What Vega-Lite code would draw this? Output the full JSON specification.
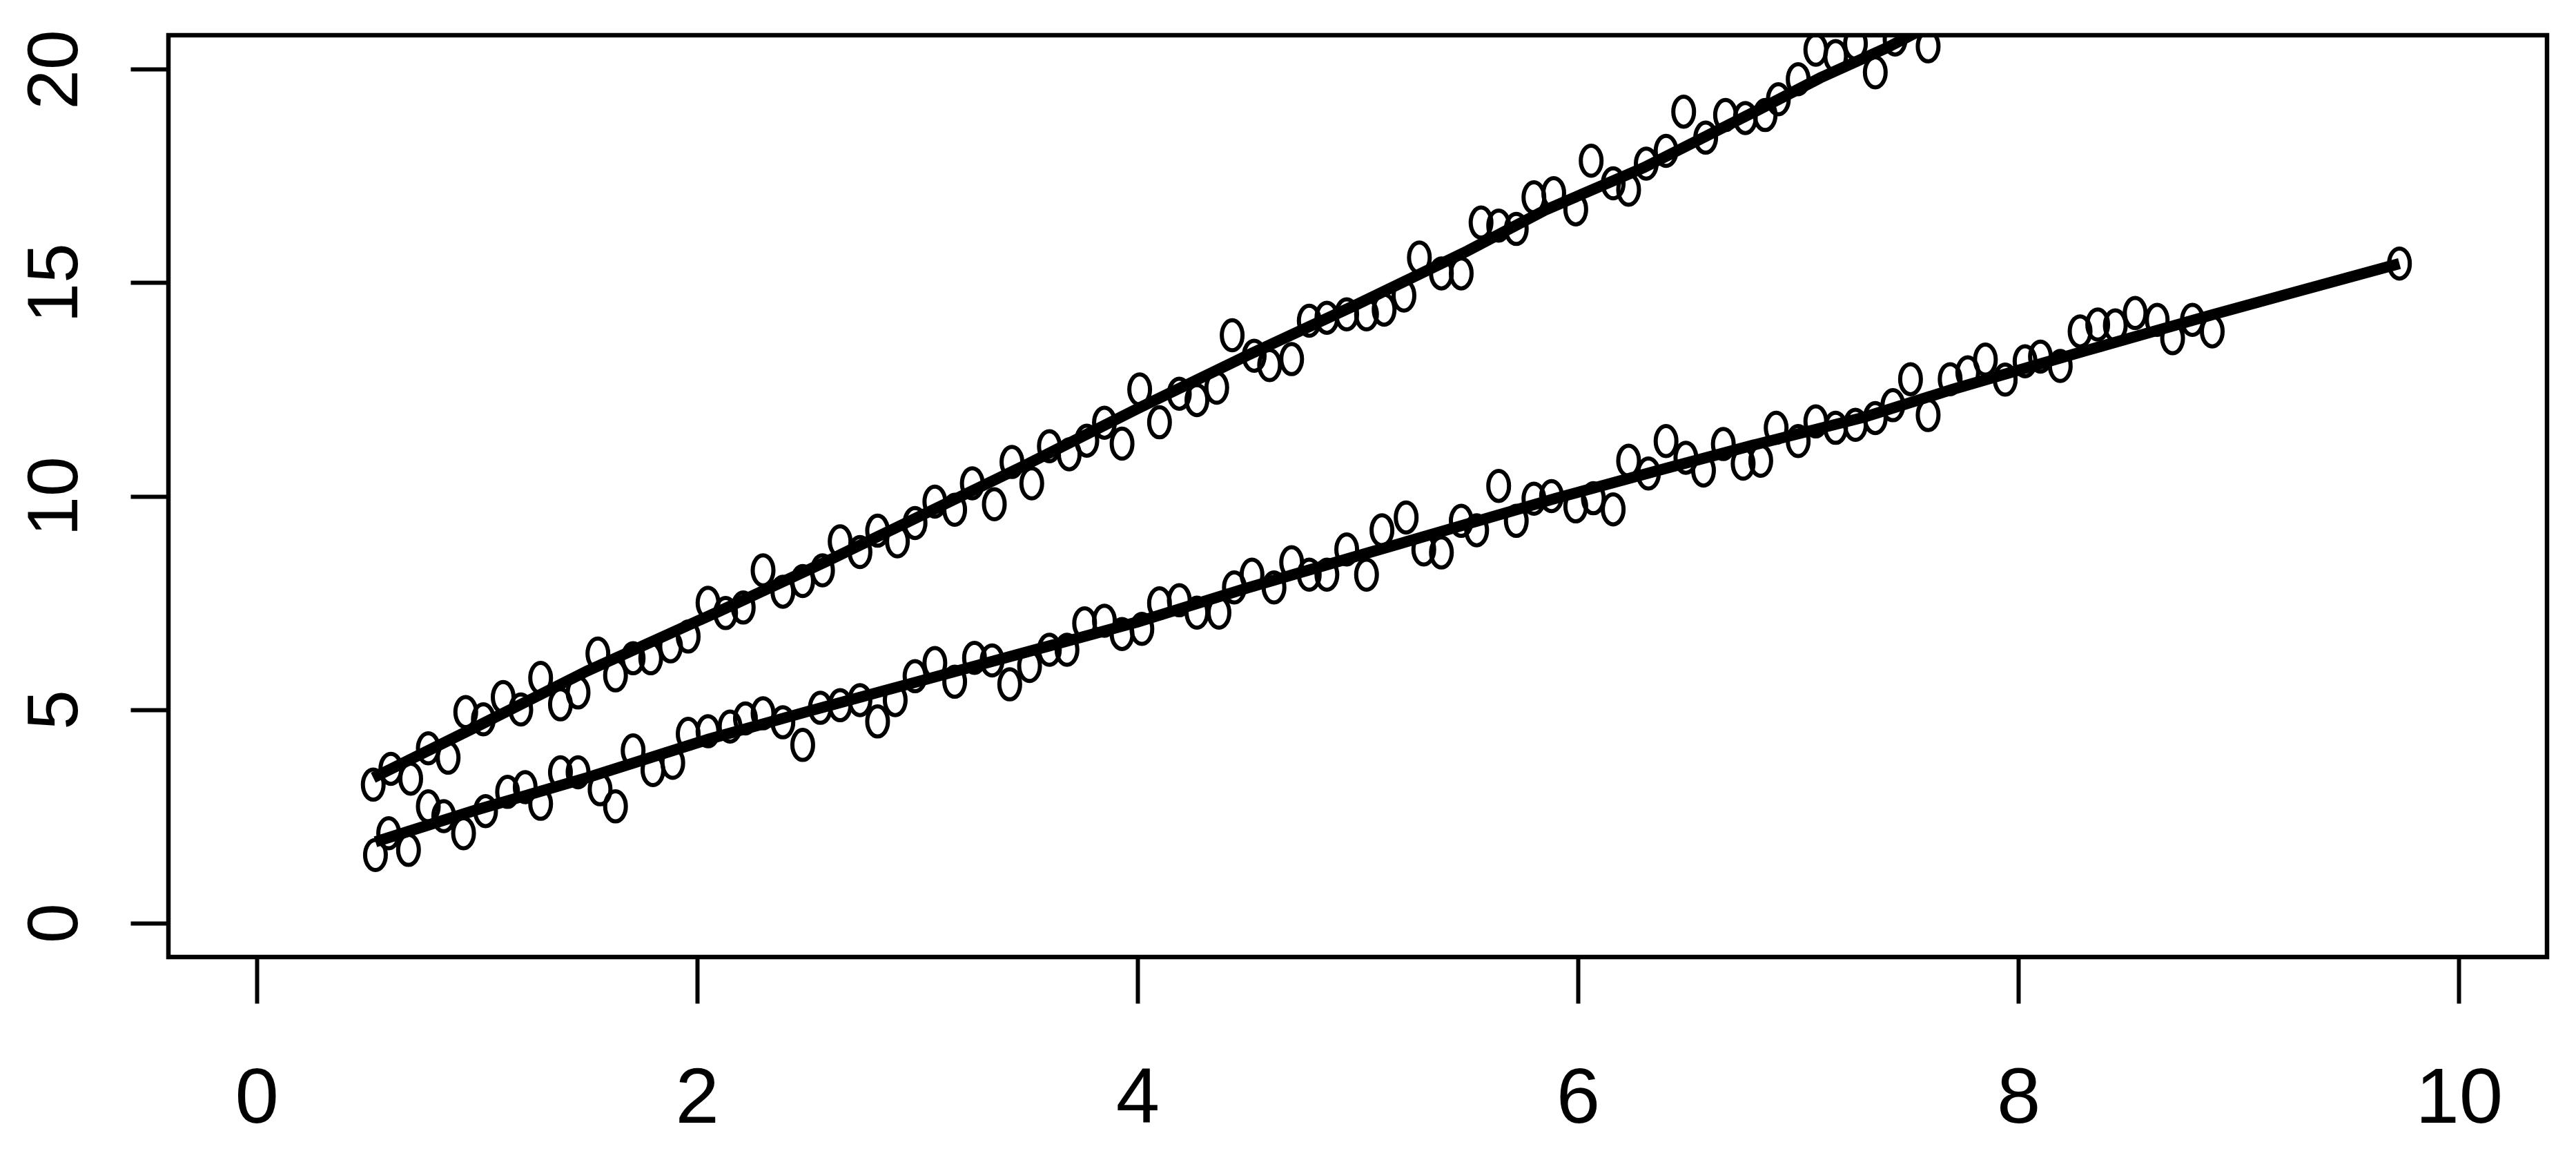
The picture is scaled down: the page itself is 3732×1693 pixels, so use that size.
{
  "$schema": "https://vega.github.io/schema/vega-lite/v6.json",
  "width": 3446,
  "height": 1335,
  "autosize": {"type": "none"},
  "padding": {"left": 244, "top": 51, "right": 42, "bottom": 307},
  "background": "white",
  "config": {
    "view": {"stroke": "black", "strokeWidth": 6.5, "fill": "white"},
    "axis": {"grid": false, "domain": false, "title": null, "tickColor": "black", "tickWidth": 6, "labelColor": "black", "labelFont": "Liberation Sans", "labelLimit": 0, "format": "d", "labelOverlap": false}
  },
  "datasets": {
    "pts": [
      {"series":"A","x":0.53,"y":3.24},{"series":"A","x":0.61,"y":3.61},{"series":"A","x":0.70,"y":3.38},{"series":"A","x":0.78,"y":4.09},{"series":"A","x":0.87,"y":3.87},{"series":"A","x":0.95,"y":4.94},{"series":"A","x":1.03,"y":4.77},{"series":"A","x":1.12,"y":5.29},{"series":"A","x":1.20,"y":5.00},{"series":"A","x":1.29,"y":5.74},{"series":"A","x":1.38,"y":5.12},{"series":"A","x":1.46,"y":5.40},{"series":"A","x":1.55,"y":6.31},{"series":"A","x":1.63,"y":5.80},{"series":"A","x":1.71,"y":6.20},{"series":"A","x":1.79,"y":6.20},{"series":"A","x":1.88,"y":6.48},{"series":"A","x":1.96,"y":6.71},{"series":"A","x":2.05,"y":7.50},{"series":"A","x":2.13,"y":7.26},{"series":"A","x":2.21,"y":7.39},{"series":"A","x":2.30,"y":8.26},{"series":"A","x":2.39,"y":7.76},{"series":"A","x":2.48,"y":8.01},{"series":"A","x":2.57,"y":8.26},{"series":"A","x":2.65,"y":8.94},{"series":"A","x":2.74,"y":8.69},{"series":"A","x":2.82,"y":9.19},{"series":"A","x":2.91,"y":8.94},{"series":"A","x":2.99,"y":9.37},{"series":"A","x":3.08,"y":9.87},{"series":"A","x":3.17,"y":9.68},{"series":"A","x":3.25,"y":10.30},{"series":"A","x":3.35,"y":9.81},{"series":"A","x":3.43,"y":10.80},{"series":"A","x":3.52,"y":10.30},{"series":"A","x":3.60,"y":11.17},{"series":"A","x":3.69,"y":10.98},{"series":"A","x":3.77,"y":11.30},{"series":"A","x":3.85,"y":11.72},{"series":"A","x":3.93,"y":11.23},{"series":"A","x":4.01,"y":12.50},{"series":"A","x":4.10,"y":11.73},{"series":"A","x":4.19,"y":12.40},{"series":"A","x":4.27,"y":12.25},{"series":"A","x":4.36,"y":12.54},{"series":"A","x":4.43,"y":13.77},{"series":"A","x":4.53,"y":13.29},{"series":"A","x":4.60,"y":13.07},{"series":"A","x":4.70,"y":13.21},{"series":"A","x":4.78,"y":14.11},{"series":"A","x":4.86,"y":14.18},{"series":"A","x":4.95,"y":14.26},{"series":"A","x":5.04,"y":14.26},{"series":"A","x":5.12,"y":14.37},{"series":"A","x":5.21,"y":14.70},{"series":"A","x":5.28,"y":15.59},{"series":"A","x":5.38,"y":15.22},{"series":"A","x":5.47,"y":15.22},{"series":"A","x":5.56,"y":16.41},{"series":"A","x":5.64,"y":16.34},{"series":"A","x":5.72,"y":16.26},{"series":"A","x":5.80,"y":17.00},{"series":"A","x":5.89,"y":17.10},{"series":"A","x":5.99,"y":16.72},{"series":"A","x":6.06,"y":17.86},{"series":"A","x":6.16,"y":17.33},{"series":"A","x":6.23,"y":17.18},{"series":"A","x":6.31,"y":17.79},{"series":"A","x":6.40,"y":18.09},{"series":"A","x":6.48,"y":19.01},{"series":"A","x":6.58,"y":18.40},{"series":"A","x":6.67,"y":18.93},{"series":"A","x":6.76,"y":18.86},{"series":"A","x":6.85,"y":18.93},{"series":"A","x":6.91,"y":19.30},{"series":"A","x":7.00,"y":19.77},{"series":"A","x":7.08,"y":20.46},{"series":"A","x":7.17,"y":20.31},{"series":"A","x":7.26,"y":20.60},{"series":"A","x":7.35,"y":19.93},{"series":"A","x":7.44,"y":20.70},{"series":"A","x":7.59,"y":20.54},
      {"series":"B","x":0.54,"y":1.59},{"series":"B","x":0.60,"y":2.10},{"series":"B","x":0.69,"y":1.71},{"series":"B","x":0.78,"y":2.73},{"series":"B","x":0.85,"y":2.50},{"series":"B","x":0.94,"y":2.10},{"series":"B","x":1.04,"y":2.62},{"series":"B","x":1.14,"y":3.07},{"series":"B","x":1.22,"y":3.18},{"series":"B","x":1.29,"y":2.79},{"series":"B","x":1.38,"y":3.53},{"series":"B","x":1.46,"y":3.53},{"series":"B","x":1.56,"y":3.13},{"series":"B","x":1.63,"y":2.73},{"series":"B","x":1.71,"y":4.04},{"series":"B","x":1.80,"y":3.58},{"series":"B","x":1.89,"y":3.75},{"series":"B","x":1.96,"y":4.43},{"series":"B","x":2.05,"y":4.49},{"series":"B","x":2.15,"y":4.60},{"series":"B","x":2.22,"y":4.79},{"series":"B","x":2.30,"y":4.91},{"series":"B","x":2.39,"y":4.70},{"series":"B","x":2.48,"y":4.17},{"series":"B","x":2.56,"y":5.04},{"series":"B","x":2.65,"y":5.10},{"series":"B","x":2.74,"y":5.22},{"series":"B","x":2.82,"y":4.72},{"series":"B","x":2.90,"y":5.22},{"series":"B","x":2.99,"y":5.78},{"series":"B","x":3.08,"y":6.09},{"series":"B","x":3.17,"y":5.65},{"series":"B","x":3.26,"y":6.21},{"series":"B","x":3.34,"y":6.15},{"series":"B","x":3.42,"y":5.59},{"series":"B","x":3.51,"y":6.02},{"series":"B","x":3.60,"y":6.40},{"series":"B","x":3.68,"y":6.40},{"series":"B","x":3.76,"y":7.02},{"series":"B","x":3.85,"y":7.08},{"series":"B","x":3.93,"y":6.77},{"series":"B","x":4.02,"y":6.89},{"series":"B","x":4.10,"y":7.49},{"series":"B","x":4.19,"y":7.56},{"series":"B","x":4.27,"y":7.27},{"series":"B","x":4.37,"y":7.27},{"series":"B","x":4.44,"y":7.86},{"series":"B","x":4.52,"y":8.16},{"series":"B","x":4.62,"y":7.86},{"series":"B","x":4.70,"y":8.45},{"series":"B","x":4.78,"y":8.16},{"series":"B","x":4.86,"y":8.16},{"series":"B","x":4.95,"y":8.75},{"series":"B","x":5.04,"y":8.16},{"series":"B","x":5.11,"y":9.20},{"series":"B","x":5.22,"y":9.50},{"series":"B","x":5.30,"y":8.75},{"series":"B","x":5.38,"y":8.68},{"series":"B","x":5.47,"y":9.42},{"series":"B","x":5.54,"y":9.20},{"series":"B","x":5.64,"y":10.24},{"series":"B","x":5.72,"y":9.42},{"series":"B","x":5.80,"y":9.94},{"series":"B","x":5.88,"y":10.00},{"series":"B","x":5.99,"y":9.76},{"series":"B","x":6.07,"y":9.95},{"series":"B","x":6.16,"y":9.69},{"series":"B","x":6.23,"y":10.83},{"series":"B","x":6.32,"y":10.53},{"series":"B","x":6.40,"y":11.29},{"series":"B","x":6.49,"y":10.90},{"series":"B","x":6.57,"y":10.60},{"series":"B","x":6.66,"y":11.22},{"series":"B","x":6.75,"y":10.76},{"series":"B","x":6.83,"y":10.83},{"series":"B","x":6.90,"y":11.60},{"series":"B","x":7.00,"y":11.29},{"series":"B","x":7.08,"y":11.75},{"series":"B","x":7.17,"y":11.60},{"series":"B","x":7.26,"y":11.67},{"series":"B","x":7.35,"y":11.83},{"series":"B","x":7.43,"y":12.13},{"series":"B","x":7.51,"y":12.74},{"series":"B","x":7.59,"y":11.90},{"series":"B","x":7.69,"y":12.74},{"series":"B","x":7.77,"y":12.90},{"series":"B","x":7.85,"y":13.20},{"series":"B","x":7.94,"y":12.73},{"series":"B","x":8.03,"y":13.16},{"series":"B","x":8.10,"y":13.27},{"series":"B","x":8.19,"y":13.05},{"series":"B","x":8.28,"y":13.86},{"series":"B","x":8.36,"y":14.02},{"series":"B","x":8.44,"y":14.00},{"series":"B","x":8.53,"y":14.29},{"series":"B","x":8.63,"y":14.13},{"series":"B","x":8.70,"y":13.70},{"series":"B","x":8.79,"y":14.13},{"series":"B","x":8.88,"y":13.86},{"series":"B","x":9.73,"y":15.45}
    ],
    "fit": [
      {"series":"A","x":0.53,"y":3.4},{"series":"A","x":1.0,"y":4.6},{"series":"A","x":1.5,"y":5.9},{"series":"A","x":2.1,"y":7.3},{"series":"A","x":2.6,"y":8.5},{"series":"A","x":3.0,"y":9.5},{"series":"A","x":3.5,"y":10.75},{"series":"A","x":4.0,"y":12.05},{"series":"A","x":4.5,"y":13.3},{"series":"A","x":5.0,"y":14.5},{"series":"A","x":5.5,"y":15.75},{"series":"A","x":5.85,"y":16.7},{"series":"A","x":6.3,"y":17.7},{"series":"A","x":6.8,"y":19.0},{"series":"A","x":7.1,"y":19.8},{"series":"A","x":7.4,"y":20.5},{"series":"A","x":7.7,"y":21.3},
      {"series":"B","x":0.54,"y":1.9},{"series":"B","x":1.0,"y":2.65},{"series":"B","x":1.5,"y":3.4},{"series":"B","x":2.05,"y":4.3},{"series":"B","x":2.5,"y":4.95},{"series":"B","x":3.0,"y":5.65},{"series":"B","x":3.5,"y":6.35},{"series":"B","x":4.0,"y":7.05},{"series":"B","x":4.5,"y":7.85},{"series":"B","x":5.0,"y":8.6},{"series":"B","x":5.5,"y":9.35},{"series":"B","x":5.9,"y":9.95},{"series":"B","x":6.4,"y":10.65},{"series":"B","x":6.8,"y":11.2},{"series":"B","x":7.3,"y":11.85},{"series":"B","x":7.7,"y":12.5},{"series":"B","x":8.3,"y":13.4},{"series":"B","x":8.88,"y":14.25},{"series":"B","x":9.73,"y":15.45}
    ]
  },
  "layer": [
    {
      "data": {"name": "pts"},
      "mark": {"type": "point", "shape": "M -1 0 A 1 1.45 0 1 1 1 0 A 1 1.45 0 1 1 -1 0 Z", "filled": false, "stroke": "black", "strokeWidth": 6, "size": 900, "opacity": 1, "clip": true},
      "encoding": {
        "x": {"field": "x", "type": "quantitative", "scale": {"domain": [-0.4, 10.4], "nice": false, "zero": false},
          "axis": {"values": [0, 2, 4, 6, 8, 10], "tickSize": 67, "labelPadding": 82, "labelFontSize": 114, "labelBaseline": "top", "labelFlush": false}},
        "y": {"field": "y", "type": "quantitative", "scale": {"domain": [-0.8, 20.8], "nice": false, "zero": false},
          "axis": {"values": [0, 5, 10, 15, 20], "tickSize": 55, "labelPadding": 78, "labelFontSize": 104, "labelAngle": -90, "labelAlign": "center", "labelBaseline": "alphabetic", "labelFlush": false}}
      }
    },
    {
      "data": {"name": "fit"},
      "mark": {"type": "line", "stroke": "black", "strokeWidth": 16, "clip": true},
      "encoding": {
        "x": {"field": "x", "type": "quantitative"},
        "y": {"field": "y", "type": "quantitative"},
        "detail": {"field": "series"}
      }
    }
  ]
}
